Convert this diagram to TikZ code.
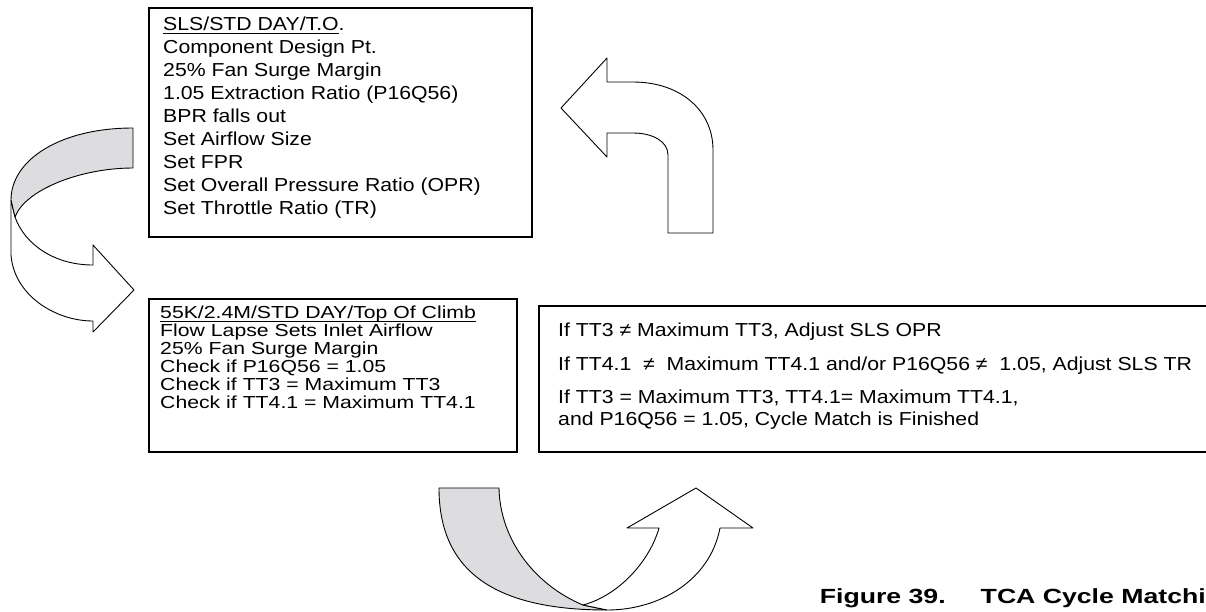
\documentclass[tikz,border=0pt]{standalone}
\usepackage{fontspec}
\setmainfont{Liberation Sans}
\newfontfamily\designfont[FakeStretch=1.13]{Liberation Sans}
\newfontfamily\climbfont[FakeStretch=1.22]{Liberation Sans}
\newfontfamily\matchfont[FakeStretch=1.13]{Liberation Sans}
\newfontfamily\figcapfont[FakeStretch=1.3]{Liberation Sans}
\definecolor{backgray}{RGB}{221,221,224}
% heading line of a box, underlined with a heavier rule
\newcommand\ulhead[1]{\sbox0{#1}\rlap{\rule[-3.3pt]{\wd0}{1.4pt}}\usebox0}

\begin{document}
\begin{tikzpicture}[x=1pt,y=-1pt,
  panel/.style={draw,line width=1.5pt,inner sep=0pt,anchor=north west},
  panel text/.style={anchor=north west,align=left,inner sep=0pt},
  band/.style={draw,line width=0.9pt,line join=round}]
\useasboundingbox (0,0) rectangle (1206,611);

% sea level take-off design point
\node[panel,minimum width=383pt,minimum height=229pt] (sls) at (148,7) {};
\node[panel text,font=\designfont\fontsize{18.8}{22.9}\selectfont] (slsText)
  at ([xshift=15pt,yshift=-10pt]sls.north west)
  {\ulhead{SLS/STD DAY/T.O}.\\
   Component Design Pt.\\
   25\% Fan Surge Margin\\
   1.05 Extraction Ratio (P16Q56)\\
   BPR falls out\\
   Set Airflow Size\\
   Set FPR\\
   Set Overall Pressure Ratio (OPR)\\
   Set Throttle Ratio (TR)};

% top of climb check
\node[panel,minimum width=368pt,minimum height=153pt] (climb) at (148,298) {};
\node[panel text,font=\climbfont\fontsize{17.4}{18}\selectfont] (climbText)
  at ([xshift=12pt,yshift=-8pt]climb.north west)
  {\ulhead{55K/2.4M/STD DAY/Top Of Climb}\\
   Flow Lapse Sets Inlet Airflow\\
   25\% Fan Surge Margin\\
   Check if P16Q56 = 1.05\\
   Check if TT3 = Maximum TT3\\
   Check if TT4.1 = Maximum TT4.1};

% adjustments (box runs off the right edge)
\node[panel,minimum width=700pt,minimum height=146pt] (match) at (538,305) {};
\node[panel text,font=\matchfont\fontsize{18.8}{21.5}\selectfont] (matchText)
  at ([xshift=20pt,yshift=-18pt]match.north west)
  {If TT3 ≠ Maximum TT3, Adjust SLS OPR\\[12pt]
   If TT4.1~ ≠ ~Maximum TT4.1 and/or P16Q56 ≠ ~1.05, Adjust SLS TR\\[12pt]
   If TT3 = Maximum TT3, TT4.1= Maximum TT4.1,\\
   and P16Q56 = 1.05, Cycle Match is Finished};

% curved arrow on the left, back face shaded
\filldraw[band,fill=white] (11,200) -- (11,255) .. controls (14,295) and (55,321) .. (93,321)
  -- (93,332) -- (134,290) -- (93,245) -- (93,265)
  .. controls (55,265) and (25,245) .. (15,217) -- cycle;
\filldraw[band,fill=backgray] (133,128) .. controls (60,128) and (11,160) .. (11,200)
  -- (15,217) .. controls (25,190) and (80,168) .. (133,168) -- cycle;

% turn-left arrow
\draw[band,fill=white] (561,108) -- (607,58) -- (607,82) -- (633,82)
  .. controls (680,82) and (713,110) .. (713,150) -- (713,233) -- (668,233) -- (668,155)
  .. controls (668,141) and (652,133) .. (633,133) -- (607,133) -- (607,157) -- cycle;

% U-turn arrow at the bottom
\filldraw[band,fill=backgray] (439,488) .. controls (439,575) and (500,610) .. (607,610)
  -- (583,605) .. controls (535,585) and (500,540) .. (499,488) -- cycle;
\filldraw[band,fill=white] (583,605) .. controls (620,595) and (650,560) .. (659,528)
  -- (627,528) -- (696,488) -- (753,528) -- (720,528)
  .. controls (710,580) and (660,610) .. (607,610) -- cycle;

\node[anchor=base east,inner sep=0pt,font=\figcapfont\bfseries\fontsize{20.5}{22}\selectfont]
  (caption) at (1206,603) {Figure 39.\hspace{35pt}TCA Cycle Matchi};
\end{tikzpicture}
\end{document}
